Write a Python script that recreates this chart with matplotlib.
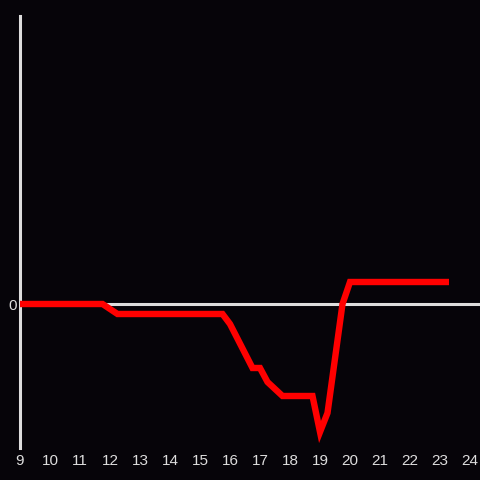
import matplotlib
matplotlib.use("Agg")
import matplotlib.pyplot as plt

hours = [9, 11.75, 12.25, 15.75, 16, 16.75, 17, 17.25, 17.75, 18.75, 19, 19.25, 19.75, 20, 23.3]
values = [0, 0, -10, -10, -20, -64, -64, -78, -92, -92, -128, -109, 0, 22, 22]
xticks = list(range(9, 25))

bg = "#060409"
fg = "#dddddd"

plt.rcParams["font.family"] = ["Liberation Sans", "DejaVu Sans"]

fig = plt.figure(figsize=(4.8, 4.8), dpi=100, facecolor=bg)
ax = fig.add_axes([20 / 480, 32 / 480, 450 / 480, 432 / 480], facecolor=bg)

ax.set_xlim(9, 24)
ax.set_ylim(-144, 288)

ax.hlines(0, 9, 24.4, color=fg, lw=2.2, clip_on=False, zorder=1)
ax.plot(hours, values, color="#ff0000", lw=4.6, solid_capstyle="butt",
        solid_joinstyle="miter", zorder=3, clip_on=False)

for side in ["top", "right", "bottom"]:
    ax.spines[side].set_visible(False)
ax.spines["left"].set_color(fg)
ax.spines["left"].set_linewidth(2.2)
ax.spines["left"].set_zorder(2)

ax.set_xticks(xticks)
ax.set_yticks([0])
ax.tick_params(axis="x", length=0, pad=4.5, labelsize=11, labelcolor=fg)
ax.tick_params(axis="y", length=0, pad=2, labelsize=11, labelcolor=fg)

fig.savefig("out.png", dpi=100, facecolor=bg)
